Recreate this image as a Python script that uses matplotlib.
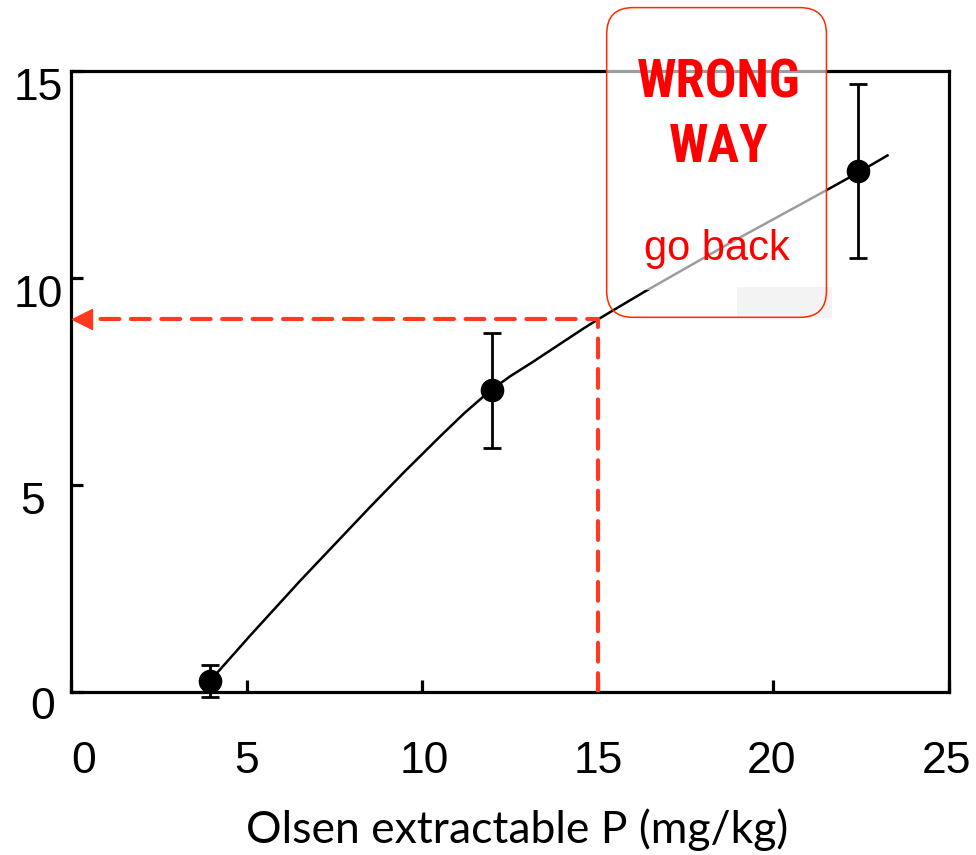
import matplotlib
matplotlib.use('Agg')
import matplotlib.pyplot as plt
from matplotlib.patches import FancyBboxPatch, Rectangle
from matplotlib.transforms import ScaledTranslation

# Measured points with error bars
olsen_p = [3.95, 11.97, 22.42]
response = [0.27, 7.29, 12.58]
response_err = [0.38, 1.39, 2.1]

# Fitted curve
curve_x = [3.95, 5.09, 6.51, 8.50, 9.5, 10.50, 11.2, 11.92, 12.49, 13.14, 14.57, 15.0,
           16.39, 18.75, 21.51, 22.42, 23.25]
curve_y = [0.27, 1.36, 2.68, 4.46, 5.33, 6.17, 6.74, 7.27, 7.62, 7.97, 8.77, 9.0,
           9.70, 10.84, 12.12, 12.55, 12.96]

# Reading taken off the curve
read_x = 15
read_y = 9

x_ticks = [0, 5, 10, 15, 20, 25]
y_ticks = [0, 5, 10, 15]

plt.rcParams.update({'font.family': 'Liberation Sans'})
red = '#fe3a20'

fig = plt.figure(figsize=(9.76, 8.55), dpi=100)
ax = fig.add_axes([0.0731, 0.1906, 0.8992, 0.7264])

# Curve and points
ax.plot(curve_x, curve_y, color='black', lw=1.8, zorder=2, solid_joinstyle='round')
ax.errorbar(olsen_p, response, yerr=response_err, fmt='o', color='black', ms=16,
            elinewidth=2, capsize=6.5, capthick=2, zorder=3, clip_on=False)

# Dashed reading line with arrow head
ax.plot([read_x, read_x, 0.5], [0, read_y, read_y], color=red, lw=3,
        dashes=(4.5, 2.8), dash_capstyle='round', zorder=3)
ax.plot([0.29], [read_y], marker='<', ms=14.5, color=red, zorder=3, clip_on=False)

ax.set_xlim(0, 25)
ax.set_ylim(0, 15)
ax.set_xticks(x_ticks)
ax.set_yticks(y_ticks)

for s in ax.spines.values():
    s.set_linewidth(2.3)
ax.tick_params(direction='in', length=8.5, width=2.3, labelsize=32)
ax.tick_params(axis='x', pad=35)
ax.tick_params(axis='y', pad=8)

# nudge tick labels to where they sit in the original
xoff = [12, 0, 2, 0, -2, -2]
for lab, dx in zip(ax.get_xticklabels(), xoff):
    lab.set_transform(lab.get_transform() + ScaledTranslation(dx / 100, 0, fig.dpi_scale_trans))
yoff = [(-5, -11), (-15, -13), (3, -13), (3, -13)]
for lab, (dx, dy) in zip(ax.get_yticklabels(), yoff):
    lab.set_transform(lab.get_transform() + ScaledTranslation(dx / 100, dy / 100, fig.dpi_scale_trans))

ax.set_xlabel('Olsen extractable P (mg/kg)', fontsize=32, family='Lato')
ax.xaxis.label.set_va('baseline')
ax.xaxis.set_label_coords(0.508, -0.243)

# "Wrong way" sign pasted over the plot
ax.add_patch(Rectangle((15.25, 9.70), 6.26, 6.8, facecolor='white', alpha=0.62,
                       edgecolor='none', zorder=4, clip_on=False))
ax.add_patch(Rectangle((18.96, 9.03), 2.72, 0.75, facecolor='#f3f3f3',
                       edgecolor='none', zorder=4, clip_on=False))
ax.add_patch(FancyBboxPatch((15.25, 9.05), 6.26, 7.48,
                            boxstyle='round,pad=0,rounding_size=0.75', mutation_aspect=0.85,
                            facecolor='none', edgecolor='#ff2a00', lw=1.1, zorder=5, clip_on=False))

sign_font = ['Roboto Condensed', 'Liberation Sans']
ax.text(18.44, 14.72, 'WRONG', color='#ff0000', fontsize=38, fontweight='bold',
        family=sign_font, ha='center', va='center', zorder=6)
ax.text(18.44, 13.15, 'WAY', color='#ff0000', fontsize=38, fontweight='bold',
        family=sign_font, ha='center', va='center', zorder=6)
ax.text(18.40, 10.43, 'go back', color='#ff0000', fontsize=30,
        ha='center', va='baseline', zorder=6)

fig.savefig('out.png', dpi=100)
